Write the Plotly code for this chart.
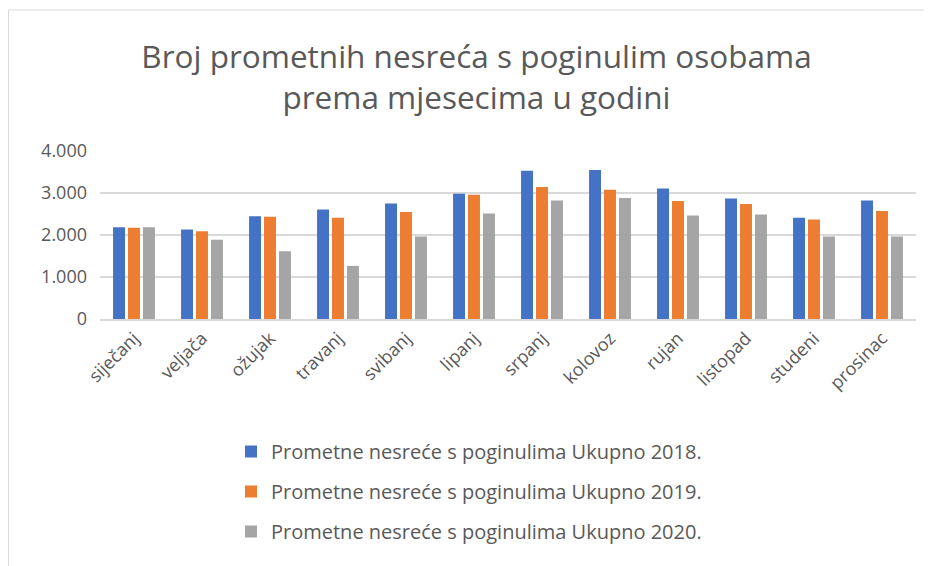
import plotly.graph_objects as go

months = ["siječanj", "veljača", "ožujak", "travanj", "svibanj", "lipanj",
          "srpanj", "kolovoz", "rujan", "listopad", "studeni", "prosinac"]

y2018 = [2187, 2131, 2449, 2608, 2751, 2982, 3531, 3547, 3109, 2871, 2410, 2823]
y2019 = [2171, 2091, 2433, 2410, 2545, 2958, 3141, 3078, 2807, 2736, 2370, 2569]
y2020 = [2187, 1885, 1614, 1264, 1964, 2513, 2823, 2879, 2465, 2489, 1964, 1964]

series_names = [
    "Prometne nesreće s poginulima Ukupno 2018.",
    "Prometne nesreće s poginulima Ukupno 2019.",
    "Prometne nesreće s poginulima Ukupno 2020.",
]
COLORS = ["#4472C4", "#ED7D31", "#A5A5A5"]
TEXT = "#595959"
FONT = "Open Sans"

fig = go.Figure()
for i, (name, vals) in enumerate(zip(series_names, [y2018, y2019, y2020])):
    fig.add_trace(go.Bar(
        x=months, y=vals, name=name, legendgroup=str(i),
        marker=dict(color=COLORS[i], line=dict(width=0)),
    ))

# page body has an 8px margin, so figure coords = screen coords - 8
W, H = 932, 566
L, R, T, B = 92, 24, 143, 255
pw, ph = W - L - R, H - T - B

fig.update_layout(
    width=W, height=H,
    margin=dict(l=L, r=R, t=T, b=B),
    paper_bgcolor="white", plot_bgcolor="white",
    separators=",.",
    barmode="group", bargap=0.34, bargroupgap=0.2,
    font=dict(family=FONT, color=TEXT, size=18),
    title=dict(
        text="Broj prometnih nesreća s poginulim osobama<br>prema mjesecima u godini",
        font=dict(family=FONT, size=31.5, color=TEXT),
        x=(468.5 - L) / pw, xref="paper", xanchor="center",
        y=1 - 60 / H, yref="container", yanchor="middle",
    ),
    legend=dict(
        orientation="v", x=(223 - L) / pw, xanchor="left",
        y=(H - B - 424) / ph, yanchor="top",
        font=dict(size=20, color=TEXT), tracegroupgap=11,
        bgcolor="rgba(0,0,0,0)",
    ),
    xaxis=dict(
        tickangle=-45, showgrid=False, showline=True, linecolor="#D9D9D9",
        linewidth=1.5, ticks="", tickfont=dict(size=18),
    ),
    yaxis=dict(
        range=[0, 4000], dtick=1000, tickformat=",d",
        showgrid=True, gridcolor="#D9D9D9", gridwidth=1.5,
        zeroline=False, ticks="", tickfont=dict(size=18), ticklabelstandoff=12,
    ),
    shapes=[dict(
        type="rect", xref="paper", yref="paper",
        x0=(0.5 - L) / pw, x1=(950 - L) / pw,
        y0=-(H + 20 - (H - B)) / ph, y1=1 + (T - 2) / ph,
        line=dict(color="#D9D9D9", width=1), layer="below",
    )],
)

fig.write_html("out.html")
